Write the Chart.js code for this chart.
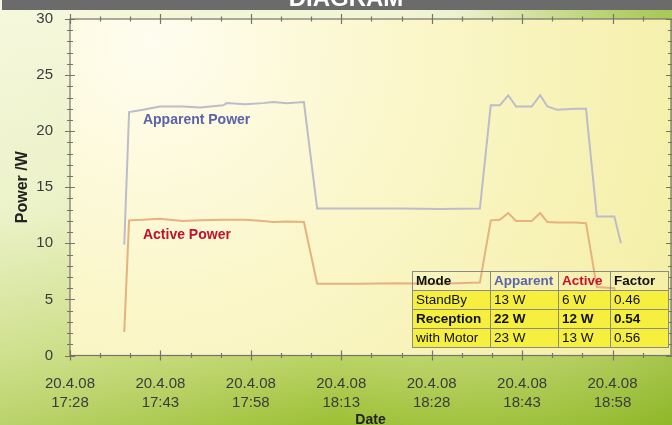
<!DOCTYPE html>
<html>
<head>
<meta charset="utf-8">
<script src="https://cdn.jsdelivr.net/npm/chart.js@4.4.1/dist/chart.umd.min.js"></script>
<style>
  html, body { margin:0; padding:0; background:#fff; }
  #wrap { position:relative; width:672px; height:425px; overflow:hidden; }
  #c { position:absolute; left:0; top:0; }
  #modeTable { position:absolute; left:412px; top:271px; border-collapse:collapse; table-layout:fixed; width:256px;
    font-family:"Liberation Sans", Arial, sans-serif; font-size:13.5px; color:#111; }
  #modeTable td { border:1.5px solid #8a8a8a; padding:0 3px; height:18px; line-height:18px; white-space:nowrap; overflow:hidden; }
  #modeTable tr.data td { background:#f6ef3e; }
  #modeTable tr.head td { font-weight:bold; background:transparent; }
  #modeTable tr.bold td { font-weight:bold; }
</style>
</head>
<body>
<div id="wrap">
  <canvas id="c" width="672" height="425"></canvas>
  <table id="modeTable"></table>
</div>
<script>
// ---------- data ----------
const minutes  = [9.0, 9.8, 12.1, 14.9, 18.7, 21.6, 25.4, 26.0, 29.0, 32.0, 33.7, 36.0, 38.8, 41.0, 48.1, 54.7, 61.4, 68.0, 69.8, 71.3, 72.7, 74.0, 76.6, 78.0, 79.2, 80.8, 83.8, 85.6, 87.4, 90.3, 91.4];
const apparent = [9.9, 21.7, 21.9, 22.2, 22.2, 22.1, 22.3, 22.5, 22.4, 22.5, 22.6, 22.5, 22.6, 13.1, 13.1, 13.1, 13.05, 13.1, 22.3, 22.3, 23.2, 22.2, 22.2, 23.2, 22.2, 21.9, 22.0, 22.0, 12.4, 12.4, 10.0];
const active   = [2.1, 12.05, 12.1, 12.2, 12.0, 12.05, 12.1, 12.1, 12.1, 12.0, 11.9, 11.95, 11.9, 6.4, 6.4, 6.45, 6.4, 6.5, 12.05, 12.1, 12.7, 12.0, 12.0, 12.7, 11.9, 11.85, 11.85, 11.8, 6.1, 6.0, 2.0];

const xTickValues = [0, 15, 30, 45, 60, 75, 90];
const xTickLabels = [
  ["20.4.08","17:28"], ["20.4.08","17:43"], ["20.4.08","17:58"], ["20.4.08","18:13"],
  ["20.4.08","18:28"], ["20.4.08","18:43"], ["20.4.08","18:58"]
];
const yTickValues = [0, 5, 10, 15, 20, 25, 30];

const tableHeader   = ["Mode", "Apparent", "Active", "Factor"];
const tableModes    = ["StandBy", "Reception", "with Motor"];
const tableApparent = ["13 W", "22 W", "23 W"];
const tableActive   = ["6 W", "12 W", "13 W"];
const tableFactor   = ["0.46", "0.54", "0.56"];

// ---------- table ----------
(function buildTable(){
  const t = document.getElementById('modeTable');
  const widths = [78, 68, 52, 58];
  const headColors = ['#111', '#5c64ae', '#c8102e', '#111'];
  let html = '<colgroup>' + widths.map(w => '<col style="width:' + w + 'px">').join('') + '</colgroup>';
  html += '<tr class="head">';
  tableHeader.forEach((h,i)=>{ html += '<td style="color:'+headColors[i]+'">'+h+'</td>'; });
  html += '</tr>';
  tableModes.forEach((m,i)=>{
    html += '<tr class="data'+(i===1?' bold':'')+'"><td>'+m+'</td><td>'+tableApparent[i]+'</td><td>'+tableActive[i]+'</td><td>'+tableFactor[i]+'</td></tr>';
  });
  t.innerHTML = html;
})();

// ---------- plugins ----------
const FONT = '"Liberation Sans", Arial, sans-serif';

const backgroundPlugin = {
  id: 'bg',
  beforeDraw(chart) {
    const ctx = chart.ctx, W = chart.width, H = chart.height, ca = chart.chartArea;
    ctx.save();
    let g = ctx.createLinearGradient(0, 0, 0, H);
    g.addColorStop(0, '#f3f5d8');
    g.addColorStop(0.5, '#e4edba');
    g.addColorStop(0.83, '#bcd468');
    g.addColorStop(1, '#9cc034');
    ctx.fillStyle = g; ctx.fillRect(0, 0, W, H);
    g = ctx.createLinearGradient(0, 0, W, 0);
    g.addColorStop(0, 'rgba(255,255,235,0.3)');
    g.addColorStop(0.5, 'rgba(255,255,235,0)');
    g.addColorStop(1, 'rgba(110,160,10,0.28)');
    ctx.fillStyle = g; ctx.fillRect(0, 0, W, H);
    g = ctx.createRadialGradient(W, 0, 0, W, 0, 220);
    g.addColorStop(0, 'rgba(150,190,50,0.7)');
    g.addColorStop(1, 'rgba(150,190,50,0)');
    ctx.fillStyle = g; ctx.fillRect(0, 0, W, H);
    // plot area
    g = ctx.createRadialGradient(150, 40, 0, 150, 40, 700);
    g.addColorStop(0, '#fffdf0');
    g.addColorStop(0.35, '#fbf7cc');
    g.addColorStop(1, '#f2ec98');
    ctx.fillStyle = g;
    ctx.fillRect(ca.left, ca.top, ca.right - ca.left, ca.bottom - ca.top);
    // title band
    ctx.fillStyle = '#6b6b6b';
    ctx.fillRect(2, 0, W - 2, 10);
    ctx.fillStyle = '#ffffff';
    ctx.font = 'bold 24px ' + FONT;
    ctx.textAlign = 'center';
    ctx.textBaseline = 'alphabetic';
    ctx.fillText('DIAGRAM', 346, 6);
    ctx.restore();
  }
};

const framePlugin = {
  id: 'frame',
  afterDatasetsDraw(chart) {
    const ctx = chart.ctx, ca = chart.chartArea, xs = chart.scales.x, ys = chart.scales.y;
    ctx.save();
    ctx.strokeStyle = '#74746a';
    ctx.lineWidth = 1.2;
    ctx.strokeRect(ca.left, ca.top, ca.right - ca.left, ca.bottom - ca.top);
    ctx.beginPath();
    for (let t = xs.min; t <= xs.max + 0.001; t += 5) {
      const px = Math.round(xs.getPixelForValue(t)) + 0.5;
      const L = (Math.round(t) % 15 === 0) ? 5 : 2.5;
      ctx.moveTo(px, ca.bottom - L); ctx.lineTo(px, ca.bottom + L);
      ctx.moveTo(px, ca.top - L); ctx.lineTo(px, ca.top + L);
    }
    for (let v = ys.min; v <= ys.max + 0.001; v += 1) {
      const py = Math.round(ys.getPixelForValue(v)) + 0.5;
      const L = (v % 5 === 0) ? 5 : 3;
      ctx.moveTo(ca.left - L, py); ctx.lineTo(ca.left + L, py);
      ctx.moveTo(ca.right - L, py); ctx.lineTo(ca.right + L, py);
    }
    ctx.stroke();
    ctx.restore();
  }
};

const labelPlugin = {
  id: 'seriesLabels',
  afterDatasetsDraw(chart, args, opts) {
    const ctx = chart.ctx, xs = chart.scales.x, ys = chart.scales.y;
    ctx.save();
    ctx.font = 'bold 14px ' + FONT;
    ctx.textAlign = 'left';
    ctx.textBaseline = 'middle';
    opts.items.forEach(it => {
      ctx.fillStyle = it.color;
      ctx.fillText(it.text, xs.getPixelForValue(it.x), ys.getPixelForValue(it.y));
    });
    ctx.restore();
  }
};

// ---------- chart ----------
const toPts = (vals) => vals.map((v, i) => ({ x: minutes[i], y: v }));

new Chart(document.getElementById('c'), {
  type: 'line',
  data: {
    datasets: [
      { label: 'Apparent Power', data: toPts(apparent), borderColor: '#bcbcca', borderWidth: 2, pointRadius: 0, tension: 0, fill: false },
      { label: 'Active Power', data: toPts(active), borderColor: '#e6b27e', borderWidth: 2, pointRadius: 0, tension: 0, fill: false }
    ]
  },
  options: {
    responsive: false,
    devicePixelRatio: 1,
    animation: false,
    layout: { padding: { top: 19, right: 1, left: 0, bottom: 0 } },
    plugins: {
      legend: { display: false },
      tooltip: { enabled: false },
      seriesLabels: {
        items: [
          { text: 'Apparent Power', x: 12.1, y: 21.0, color: '#5a62a8' },
          { text: 'Active Power', x: 12.1, y: 10.75, color: '#c4102c' }
        ]
      }
    },
    scales: {
      x: {
        type: 'linear',
        min: 0, max: 99.7,
        afterBuildTicks: (s) => { s.ticks = xTickValues.map(v => ({ value: v })); },
        afterFit: (s) => { s.height = 425 - 355.5; },
        grid: { display: false },
        border: { display: false },
        ticks: {
          padding: 10.5,
          color: '#3b3b3b',
          font: { family: FONT, size: 15, lineHeight: 19 / 15 },
          maxRotation: 0, autoSkip: false,
          callback: (v, i) => xTickLabels[i]
        },
        title: { display: true, text: 'Date', color: '#222', padding: 0,
                 font: { family: FONT, size: 14, weight: 'bold', lineHeight: 0.75 } }
      },
      y: {
        type: 'linear',
        min: 0, max: 30,
        afterBuildTicks: (s) => { s.ticks = yTickValues.map(v => ({ value: v })); },
        afterFit: (s) => { s.width = 70; },
        grid: { display: false },
        border: { display: false },
        ticks: { padding: 9, color: '#3b3b3b', font: { family: FONT, size: 15 } },
        title: { display: true, text: 'Power /W', color: '#222', padding: { top: 15, bottom: 0 },
                 font: { family: FONT, size: 16, weight: 'bold', lineHeight: 1 } }
      }
    }
  },
  plugins: [backgroundPlugin, framePlugin, labelPlugin]
});
</script>
</body>
</html>
